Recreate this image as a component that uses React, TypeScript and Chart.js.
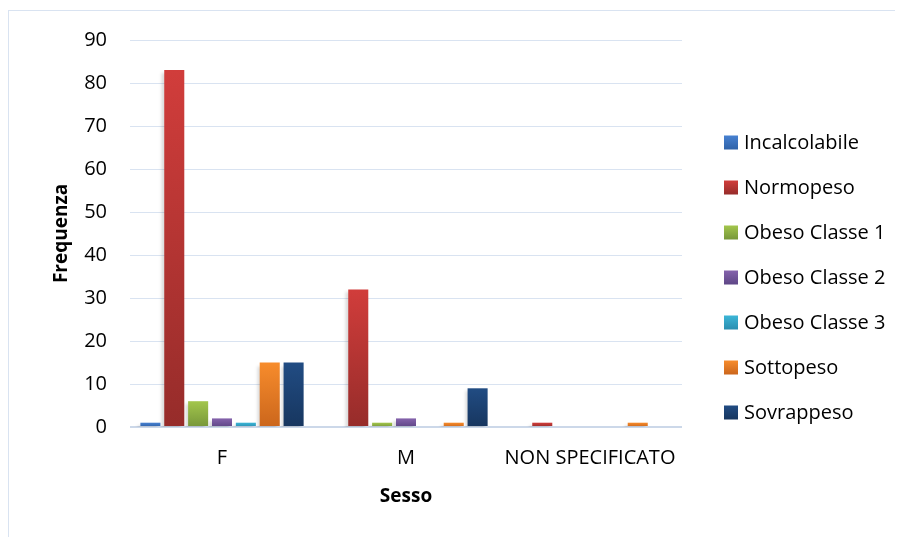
import React, { useEffect, useRef } from "react";
import { Chart, registerables } from "chart.js";

Chart.register(...registerables);

const categories = ["F", "M", "NON SPECIFICATO"];
const seriesNames = [
  "Incalcolabile",
  "Normopeso",
  "Obeso Classe 1",
  "Obeso Classe 2",
  "Obeso Classe 3",
  "Sottopeso",
  "Sovrappeso",
];
const incalcolabile = [1, 0, 0];
const normopeso = [83, 32, 1];
const obeso1 = [6, 1, 0];
const obeso2 = [2, 2, 0];
const obeso3 = [1, 0, 0];
const sottopeso = [15, 1, 1];
const sovrappeso = [15, 9, 0];
const seriesValues = [incalcolabile, normopeso, obeso1, obeso2, obeso3, sottopeso, sovrappeso];
const yTicks = [0, 10, 20, 30, 40, 50, 60, 70, 80, 90];

// top / bottom colours of each series' gradient fill
const topColors = ["#4781d1", "#d13d3b", "#a3c64c", "#8563ac", "#3cb6d7", "#f78c2c", "#214c83"];
const bottomColors = ["#2f62a8", "#962c2a", "#77973a", "#5e4686", "#2a8eb0", "#cb661c", "#17365f"];
const midColors = ["#3c72bf", "#c13836", "#8fb043", "#7254a0", "#33a3c6", "#e67a24", "#1c4070"];

const FONT = "'Open Sans', 'Liberation Sans', sans-serif";

function barFill(i: number) {
  return (ctx: any) => {
    const chart = ctx.chart;
    const y = chart.scales?.y;
    if (!chart.chartArea || !y || ctx.raw == null) return midColors[i];
    const top = y.getPixelForValue(ctx.raw);
    const bottom = y.getPixelForValue(0);
    if (!(bottom - top > 1)) return midColors[i];
    const g = chart.ctx.createLinearGradient(0, top, 0, bottom);
    g.addColorStop(0, topColors[i]);
    g.addColorStop(1, bottomColors[i]);
    return g;
  };
}

const barShadow = {
  id: "barShadow",
  beforeDatasetsDraw(chart: any) {
    const c = chart.ctx;
    c.save();
    c.shadowColor = "rgba(0,0,0,0.14)";
    c.shadowBlur = 3;
    c.shadowOffsetX = -3;
    c.shadowOffsetY = 3;
  },
  afterDatasetsDraw(chart: any) {
    chart.ctx.restore();
  },
};

// legend column to the right of the plot, vertically centred on the canvas
const sideLegend = {
  id: "sideLegend",
  afterDraw(chart: any) {
    const c = chart.ctx;
    const x = chart.chartArea.right + 42;
    const step = 45;
    const n = chart.data.datasets.length;
    const cy = chart.height / 2 + 3.5;
    const y0 = cy - ((n - 1) * step) / 2;
    c.save();
    c.font = `20px ${FONT}`;
    c.textBaseline = "middle";
    c.textAlign = "left";
    chart.data.datasets.forEach((ds: any, i: number) => {
      const y = y0 + i * step;
      const g = c.createLinearGradient(0, y - 7, 0, y + 7);
      g.addColorStop(0, topColors[i]);
      g.addColorStop(1, bottomColors[i]);
      c.fillStyle = g;
      c.fillRect(x, y - 7, 14, 14);
      c.fillStyle = "#000";
      c.fillText(ds.label, x + 20, y + 1);
    });
    c.restore();
  },
};

export default function App() {
  const ref = useRef<HTMLCanvasElement>(null);

  useEffect(() => {
    if (!ref.current) return;
    const chart = new Chart(ref.current, {
      type: "bar",
      data: {
        labels: categories,
        datasets: seriesNames.map((name, i) => ({
          label: name,
          data: seriesValues[i],
          backgroundColor: barFill(i),
          borderWidth: 0,
          categoryPercentage: 0.908,
          barPercentage: 0.84,
        })),
      },
      options: {
        animation: false,
        responsive: false,
        maintainAspectRatio: false,
        layout: { padding: { left: 37, right: 221, top: 29, bottom: 25 } },
        plugins: {
          legend: { display: false },
          tooltip: { enabled: false },
        },
        scales: {
          x: {
            grid: { display: false, drawTicks: false },
            border: { display: false },
            ticks: { color: "#000", font: { family: FONT, size: 20 }, padding: 19, maxRotation: 0 },
            title: {
              display: true,
              text: "Sesso",
              color: "#000",
              font: { family: FONT, size: 19, weight: "bold" },
              padding: { top: 14, bottom: 4 },
            },
            afterFit(scale: any) {
              scale.height = 85;
            },
          },
          y: {
            min: 0,
            max: 90,
            afterBuildTicks(scale: any) {
              scale.ticks = yTicks.map((v) => ({ value: v }));
            },
            grid: {
              drawTicks: false,
              color: (ctx: any) => (ctx.tick && ctx.tick.value === 0 ? "#ccd8e9" : "#d9e3f1"),
              lineWidth: (ctx: any) => (ctx.tick && ctx.tick.value === 0 ? 2 : 1),
            },
            border: { display: false },
            ticks: { color: "#000", font: { family: FONT, size: 20 }, padding: 23 },
            title: {
              display: true,
              text: "Frequenza",
              color: "#000",
              font: { family: FONT, size: 19, weight: "bold" },
              padding: { top: 4, bottom: 8 },
            },
            afterFit(scale: any) {
              scale.width = 84;
              // the layout padding already leaves room for the end labels
              scale.paddingTop = 0;
              scale.paddingBottom = 0;
            },
          },
        },
      },
      plugins: [barShadow, sideLegend],
    });
    return () => chart.destroy();
  }, []);

  return (
    <div
      style={{
        marginTop: 2,
        width: 895,
        height: 527,
        borderLeft: "1px solid #d9e3f1",
        borderTop: "1px solid #d9e3f1",
        boxSizing: "border-box",
      }}
    >
      <canvas ref={ref} width={894} height={526} style={{ display: "block" }} />
    </div>
  );
}
